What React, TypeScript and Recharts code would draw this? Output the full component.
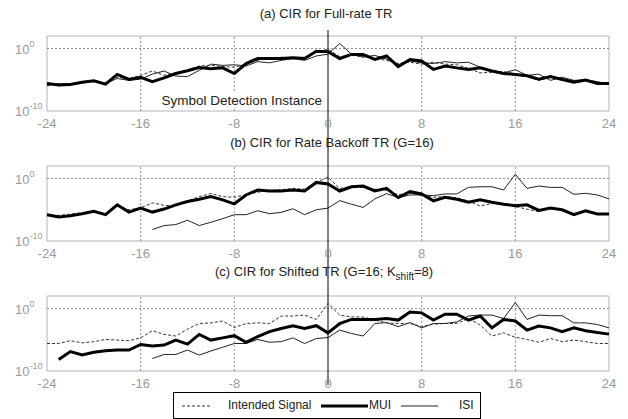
import React from "react";
import {
  LineChart,
  Line,
  XAxis,
  YAxis,
  ReferenceLine,
  ReferenceArea,
} from "recharts";

// delay index (symbols)
const delays = [
  -24, -23, -22, -21, -20, -19, -18, -17, -16, -15, -14, -13, -12, -11, -10, -9, -8, -7, -6, -5, -4, -3, -2, -1, 0,
  1, 2, 3, 4, 5, 6, 7, 8, 9, 10, 11, 12, 13, 14, 15, 16, 17, 18, 19, 20, 21, 22, 23, 24,
];

const xTicks = [-24, -16, -8, 0, 8, 16, 24];
const yTicks = [-10, 0];
const seriesNames = ["Intended Signal", "MUI", "ISI"];

// values are log10 of |CIR|^2
const fullRateIntended = [
  -6.0, -5.6, -5.7, -5.4, -5.3, -5.5, -4.6, -4.8, -4.3, -3.6, -4.3, -3.9, -3.4, -2.8, -2.7, -2.9, -3.0, -2.5, -1.9, -1.5, -1.4, -1.5, -1.4, -0.6, -0.1,
  -1.3, -1.1, -1.3, -1.6, -1.9, -2.4, -2.2, -2.5, -2.2, -2.5, -2.6, -3.2, -3.9, -3.8, -3.7, -4.1, -4.5, -5.1, -4.6, -5.0, -5.2, -5.1, -5.5, -5.6,
];
const fullRateMui = [
  -5.6, -5.85, -5.75, -5.4, -5.15, -5.7, -4.15, -4.95, -4.6, -5.3, -4.7, -4.0, -3.55, -3.05, -3.25, -3.1, -4.0, -2.4, -1.6, -1.6, -1.6, -1.5, -1.6, -0.45, -0.5,
  -1.6, -0.95, -0.95, -1.75, -1.2, -2.9, -1.75, -2.0, -3.35, -2.8, -3.1, -3.35, -3.1, -3.6, -4.0, -4.15, -4.35, -4.9, -4.5, -4.95, -5.4, -5.05, -5.6, -5.6,
];
const fullRateIsi = [
  -5.8, -5.7, -5.6, -5.5, -5.2, -5.6, -4.8, -5.1, -4.9, -4.1, -3.6, -4.4, -4.5, -3.5, -2.5, -2.7, -2.6, -2.8, -2.1, -2.3, -1.9, -1.6, -1.9, -1.2, -0.9,
  0.8, -0.9, -1.4, -1.1, -1.7, -2.6, -2.0, -2.3, -2.4, -2.1, -2.3, -2.2, -3.0, -3.5, -3.9, -3.4, -4.3, -4.1, -5.1, -4.6, -5.1, -5.0, -5.3, -5.7,
];

const backoffIntended = [
  -5.9, -5.9, -5.7, -5.5, -5.3, -5.9, -4.4, -5.0, -4.7, -3.9, -4.3, -4.4, -3.6, -2.9, -2.4, -2.9, -3.0, -2.6, -2.2, -1.9, -1.8, -1.6, -1.7, -0.6, 0.2,
  -1.6, -1.3, -1.4, -1.7, -1.9, -2.6, -2.3, -2.7, -3.0, -2.9, -3.1, -3.6, -4.4, -4.0, -4.1, -4.5, -4.9, -5.3, -4.8, -5.0, -5.6, -5.2, -5.6, -5.7,
];
const backoffMui = [
  -5.79, -6.16, -5.95, -5.63, -5.26, -5.79, -4.21, -5.37, -4.74, -5.37, -4.89, -4.21, -3.68, -3.32, -2.89, -3.42, -4.05, -2.63, -1.84, -2.0, -2.0, -1.84, -2.0, -0.63, -0.89,
  -2.0, -1.32, -1.21, -2.0, -1.58, -3.05, -2.11, -2.47, -3.58, -3.0, -3.32, -3.79, -3.42, -3.79, -4.11, -4.37, -4.21, -5.11, -4.74, -5.0, -5.79, -5.16, -5.68, -5.68,
];
const backoffIsi = [
  null, null, null, null, null, null, null, null, null,
  -8.16, -7.53, -7.37, -6.68, -7.53, -7.0, -6.42, -5.79, -5.79, -5.16, -5.63, -5.42, -4.84, -5.79, -5.0, -4.74,
  -3.53, -4.11, -4.63, -3.26, -2.42, -3.05, -2.63, -2.63, -2.74, -2.47, -2.47, -1.42, -1.32, -1.32, -1.84, 0.68, -1.58, -1.21, -1.42, -1.42, -2.53, -2.37, -2.63, -3.26,
];

const shiftedIntended = [
  -5.6, -5.6, -5.15, -5.5, -5.3, -4.95, -5.05, -5.15, -4.7, -3.55, -4.15, -4.4, -3.3, -2.4, -2.3, -2.0, -3.05, -2.4, -2.3, -2.4, -1.2, -1.2, -1.05, -1.75, 0.8,
  -1.05, -1.35, -1.35, -1.85, -2.3, -2.4, -2.4, -2.9, -2.5, -2.4, -2.4, -1.6, -2.65, -4.4, -3.9, -4.6, -4.95, -5.4, -4.8, -5.3, -5.05, -5.3, -5.6, -5.6,
];
const shiftedMui = [
  null,
  -8.15, -6.9, -7.45, -7.0, -6.75, -6.65, -6.65, -5.75, -6.0, -5.85, -5.05, -5.7, -4.15, -5.05, -4.7, -4.35, -5.4, -4.5, -3.7, -3.2, -2.75, -3.2, -2.75, -3.9,
  -2.4, -1.75, -1.75, -1.75, -1.6, -1.85, -0.55, -0.7, -1.85, -0.9, -0.9, -1.85, -1.2, -3.1, -1.75, -2.0, -3.45, -2.8, -3.1, -3.7, -3.1, -3.55, -3.85, -4.1,
];
const shiftedIsi = [
  null, null, null, null, null, null, null, null, null,
  -8.0, -7.35, -7.35, -6.65, -7.45, -6.8, -6.2, -5.6, -5.6, -4.95, -5.4, -5.3, -4.7, -5.6, -4.8, -4.65,
  -3.45, -4.0, -4.4, -2.4, -2.25, -2.9, -2.25, -3.1, -2.4, -2.4, -2.15, -1.2, -1.05, -1.05, -1.6, 0.95, -1.75, -1.05, -1.15, -1.15, -2.3, -2.3, -2.55, -3.1,
];

const W = 628;
const H = 130;
const FONT = "'Liberation Sans', Arial, sans-serif";

function buildRows(intended: (number | null)[], mui: (number | null)[], isi: (number | null)[]) {
  return delays.map((x, i) => ({ x, intended: intended[i], mui: mui[i], isi: isi[i] }));
}

function PowerTick(props: any) {
  const { y, payload } = props;
  return (
    <text x={15} y={y + 5} fill="#9a9a9a" fontSize={13} fontFamily={FONT}>
      10
      <tspan dy={-7} fontSize={9}>
        {payload.value}
      </tspan>
    </text>
  );
}

function Panel({ rows, lineTop, lineBottom }: { rows: any[]; lineTop: number; lineBottom: number }) {
  return (
    <LineChart width={W} height={H} data={rows} margin={{ top: 36, right: 19, bottom: 0, left: 0 }}>
      <XAxis
        dataKey="x"
        type="number"
        domain={[-24, 24]}
        ticks={xTicks}
        tickLine={false}
        axisLine={false}
        height={19}
        tick={{ fill: "#9a9a9a", fontSize: 13 }}
        interval={0}
      />
      <YAxis
        type="number"
        domain={[-10, 2]}
        ticks={yTicks}
        width={47}
        tickLine={false}
        axisLine={false}
        tick={<PowerTick />}
        allowDataOverflow
      />
      <ReferenceArea x1={-24} x2={24} y1={-10} y2={2} fill="none" stroke="#b4b4b4" strokeWidth={1} />
      {[-16, -8, 8, 16].map((v) => (
        <ReferenceLine key={v} x={v} stroke="#777" strokeDasharray="2 2" strokeWidth={0.8} />
      ))}
      <ReferenceLine y={0} stroke="#777" strokeDasharray="2 2" strokeWidth={0.8} />
      <Line dataKey="intended" stroke="#333" strokeWidth={1} strokeDasharray="3 2" dot={false} isAnimationActive={false} connectNulls={false} />
      <Line dataKey="isi" stroke="#222" strokeWidth={1} dot={false} isAnimationActive={false} connectNulls={false} />
      <Line dataKey="mui" stroke="#000" strokeWidth={3} dot={false} isAnimationActive={false} connectNulls={false} />
      <ReferenceLine
        x={0}
        stroke="#000"
        strokeWidth={1}
        shape={(p: any) => <line x1={p.x1} x2={p.x2} y1={lineTop} y2={lineBottom} stroke="#000" strokeWidth={1} />}
      />
    </LineChart>
  );
}

const titleStyle: React.CSSProperties = {
  position: "absolute",
  width: 400,
  textAlign: "center",
  fontSize: 13,
  lineHeight: "16px",
  color: "#222",
};

export default function App() {
  const rowsA = buildRows(fullRateIntended, fullRateMui, fullRateIsi);
  const rowsB = buildRows(backoffIntended, backoffMui, backoffIsi);
  const rowsC = buildRows(shiftedIntended, shiftedMui, shiftedIsi);
  return (
    <div style={{ position: "absolute", left: 0, top: 0, width: W, height: 419, background: "#fff", fontFamily: FONT }}>
      <div style={{ position: "absolute", left: 0, top: 0 }}>
        <Panel rows={rowsA} lineTop={30} lineBottom={130} />
      </div>
      <div style={{ position: "absolute", left: 0, top: 130 }}>
        <Panel rows={rowsB} lineTop={0} lineBottom={130} />
      </div>
      <div style={{ position: "absolute", left: 0, top: 260 }}>
        <Panel rows={rowsC} lineTop={0} lineBottom={125} />
      </div>

      <div style={{ ...titleStyle, left: 126, top: 6 }}>(a) CIR for Full-rate TR</div>
      <div style={{ ...titleStyle, left: 132, top: 135 }}>(b) CIR for Rate Backoff TR (G=16)</div>
      <div style={{ ...titleStyle, left: 124, top: 264 }}>
        (c) CIR for Shifted TR (G=16; K
        <span style={{ fontSize: 10, position: "relative", top: 4 }}>shift</span>=8)
      </div>
      <div style={{ position: "absolute", right: W - 322, top: 93, fontSize: 13.5, lineHeight: "16px", color: "#222", background: "#fff", paddingLeft: 2 }}>
        Symbol Detection Instance
      </div>

      <div
        style={{
          position: "absolute",
          left: 173,
          top: 392,
          width: 306,
          height: 25,
          border: "1px solid #000",
          background: "#fff",
          fontSize: 12,
          color: "#222",
        }}
      >
        <svg style={{ position: "absolute", left: 8, top: 11 }} width={28} height={4}>
          <line x1={0} x2={28} y1={2} y2={2} stroke="#333" strokeWidth={1} strokeDasharray="3 2" />
        </svg>
        <span style={{ position: "absolute", left: 54, top: 5 }}>{seriesNames[0]}</span>
        <svg style={{ position: "absolute", left: 147, top: 10 }} width={47} height={6}>
          <line x1={0} x2={47} y1={3} y2={3} stroke="#000" strokeWidth={3} />
        </svg>
        <span style={{ position: "absolute", left: 195, top: 5 }}>{seriesNames[1]}</span>
        <svg style={{ position: "absolute", left: 227, top: 11 }} width={37} height={4}>
          <line x1={0} x2={37} y1={2} y2={2} stroke="#222" strokeWidth={1} />
        </svg>
        <span style={{ position: "absolute", left: 285, top: 5 }}>{seriesNames[2]}</span>
      </div>
    </div>
  );
}
